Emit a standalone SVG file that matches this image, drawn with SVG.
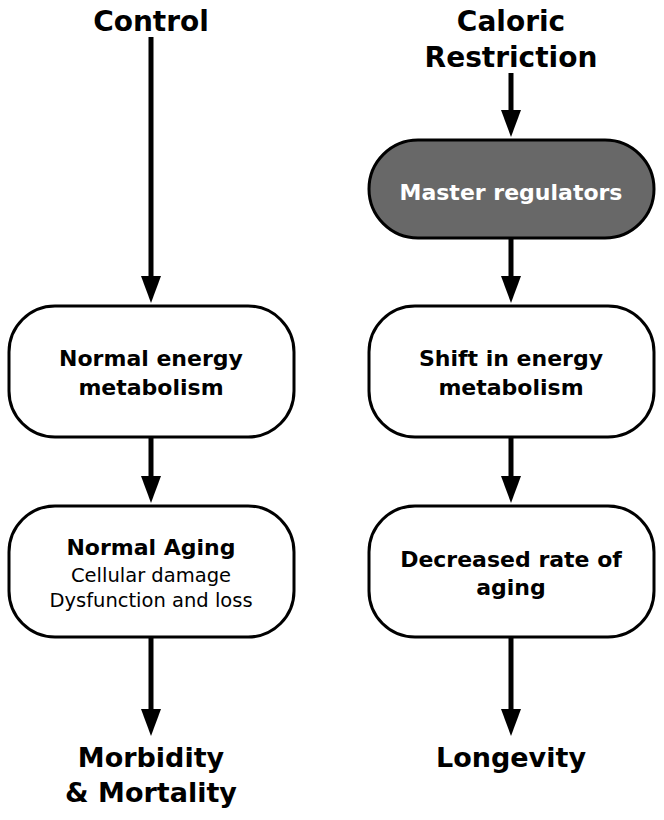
<svg xmlns="http://www.w3.org/2000/svg" width="664" height="820" viewBox="0 0 664 820">
<style>
.t{font-family:"DejaVu Sans",Verdana,sans-serif;text-anchor:middle;fill:#000}
.title{font-size:28px;font-weight:bold}
.end{font-size:27px;font-weight:bold}
.lbl{font-size:22px;font-weight:bold}
.sub{font-size:19.5px}
.box{fill:#fff;stroke:#000;stroke-width:3}
.dark{fill:#686868;stroke:#000;stroke-width:3}
.c{stroke:#000;stroke-width:5;fill:none;marker-end:url(#ah)}
</style>
<defs>
<marker id="ah" markerUnits="userSpaceOnUse" markerWidth="27" markerHeight="20" refX="7" refY="10" orient="auto" viewBox="0 0 27 20">
<path d="M0,0 L27,10 L0,20 Z" fill="#000"/>
</marker>
</defs>
<g id="connectors">
<path class="c" d="M151,37 L151,283"/>
<path class="c" d="M151,438 L151,483"/>
<path class="c" d="M151,638 L151,716"/>
<path class="c" d="M511,73 L511,117"/>
<path class="c" d="M511,238 L511,283"/>
<path class="c" d="M511,438 L511,483"/>
<path class="c" d="M511,638 L511,716"/>
</g>
<g id="control"><text class="t title" x="151" y="31">Control</text></g>
<g id="caloric"><text class="t title" x="511" y="31">Caloric</text><text class="t title" x="511" y="67">Restriction</text></g>
<g id="master"><rect class="dark" x="369" y="140" width="285" height="98" rx="49"/><text class="t lbl" x="511" y="200" style="fill:#fff">Master regulators</text></g>
<g id="normal-energy"><rect class="box" x="9" y="306" width="285" height="131" rx="46"/><text class="t lbl" x="151" y="366">Normal energy</text><text class="t lbl" x="151" y="395">metabolism</text></g>
<g id="shift-energy"><rect class="box" x="369" y="306" width="285" height="131" rx="46"/><text class="t lbl" x="511" y="366">Shift in energy</text><text class="t lbl" x="511" y="395">metabolism</text></g>
<g id="normal-aging"><rect class="box" x="9" y="506" width="285" height="131" rx="46"/><text class="t lbl" x="151" y="555">Normal Aging</text><text class="t sub" x="151" y="582">Cellular damage</text><text class="t sub" x="151" y="607">Dysfunction and loss</text></g>
<g id="decreased-aging"><rect class="box" x="369" y="506" width="285" height="131" rx="46"/><text class="t lbl" x="511" y="567">Decreased rate of</text><text class="t lbl" x="511" y="595">aging</text></g>
<g id="morbidity"><text class="t end" x="151" y="767">Morbidity</text><text class="t end" x="151" y="802">&amp; Mortality</text></g>
<g id="longevity"><text class="t end" x="511" y="767">Longevity</text></g>
</svg>
